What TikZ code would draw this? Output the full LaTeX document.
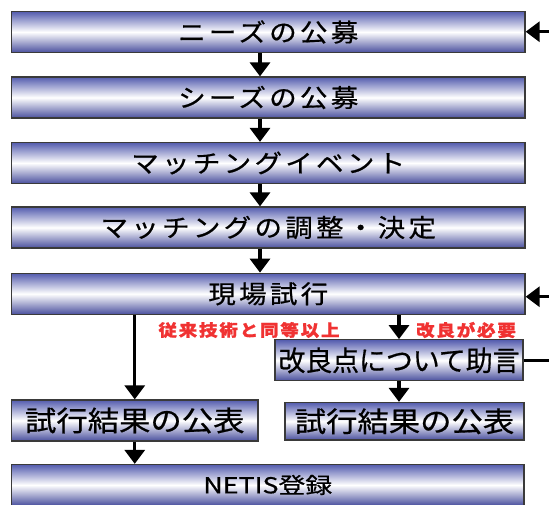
\documentclass[tikz,border=0pt]{standalone}
\usepackage{fontspec}
\usepackage{graphicx}
\setmainfont{Noto Sans CJK JP}[FakeBold=0.6]
\newfontfamily\jpls{Noto Sans CJK JP}[LetterSpace=12,FakeBold=0.6]
\newfontfamily\jpred{Noto Sans CJK JP}[LetterSpace=10,FakeBold=1.2]
\usetikzlibrary{arrows.meta}
\definecolor{btop}{RGB}{84,92,174}
\definecolor{bbot}{RGB}{74,80,158}
\definecolor{bline}{RGB}{58,58,58}
\definecolor{lred}{RGB}{240,50,50}
\tikzset{
  box/.style={draw=bline, line width=1.3pt, top color=btop, bottom color=bbot, middle color=white, inner sep=0pt, minimum height=41pt},
  toptxt/.style={font=\jpls\fontsize{25}{25}\selectfont},
  bigtxt/.style={font=\fontsize{28}{28}\selectfont},
  redlbl/.style={text=lred, inner sep=0pt, font=\jpred\bfseries\fontsize{16.5}{16.5}\selectfont},
  arr/.style={line width=3.2pt, -{Triangle[width=20pt,length=14pt]}},
  plain/.style={line width=3.2pt}
}
\begin{document}
\begin{tikzpicture}[x=1pt,y=-1pt]
\useasboundingbox (0,0) rectangle (549,504);
\node[box, minimum width=513.5pt, toptxt] (n1) at (268.25,32) {\scalebox{1.1}[1]{ニーズの公募}};
\node[box, minimum width=513.5pt, toptxt] (n2) at (268.25,97.5) {\scalebox{1.1}[1]{シーズの公募}};
\node[box, minimum width=513.5pt, toptxt] (n3) at (268.25,163) {\scalebox{1.1}[1]{マッチングイベント}};
\node[box, minimum width=513.5pt, toptxt] (n4) at (268.25,227.5) {\scalebox{1.1}[1]{マッチングの調整・決定}};
\node[box, minimum width=513.5pt, toptxt] (n5) at (268.25,293.8) {\scalebox{1.1}[1]{現場試行}};
\node[box, minimum width=248pt, bigtxt] (n6) at (399,360.3) {\scalebox{0.96}[1]{改良点について助言}};
\node[box, minimum width=246.5pt, bigtxt] (n7) at (134.75,420.5) {\scalebox{1.12}[1]{試行結果の公表}};
\node[box, minimum width=239pt, minimum height=37.5pt, bigtxt] (n8) at (404.5,421.3) {\scalebox{1.12}[1]{試行結果の公表}};
\node[box, minimum width=512.5pt, font=\fontsize{22}{22}\selectfont] (n9) at (267.75,485) {\scalebox{1.22}[1]{NETIS登録}};
\node[redlbl] (l1) at (249,330) {\scalebox{1.12}[1]{従来技術と同等以上}};
\node[redlbl] (l2) at (466,330) {\scalebox{1.12}[1]{改良が必要}};
\coordinate (ax) at (260,0);
\coordinate (e1) at (549,360.3);
\coordinate (e2) at (549,296.7);
\coordinate (e3) at (549,31.7);
\draw[arr] (n1.south -| ax) -- (n2.north -| ax);
\draw[arr] (n2.south -| ax) -- (n3.north -| ax);
\draw[arr] (n3.south -| ax) -- (n4.north -| ax);
\draw[arr] (n4.south -| ax) -- (n5.north -| ax);
\draw[arr] (n5.south -| n7.north) -- (n7.north);
\draw[arr] (n5.south -| n6.north) -- (n6.north);
\draw[arr] (n6.south) -- (n8.north -| n6.south);
\draw[arr] (n7.south) -- (n9.north -| n7.south);
\draw[plain] (n6.east) -- (e1);
\draw[arr] (e2) -- (n5.east |- e2);
\draw[arr] (e3) -- (n1.east |- e3);
\end{tikzpicture}
\end{document}
